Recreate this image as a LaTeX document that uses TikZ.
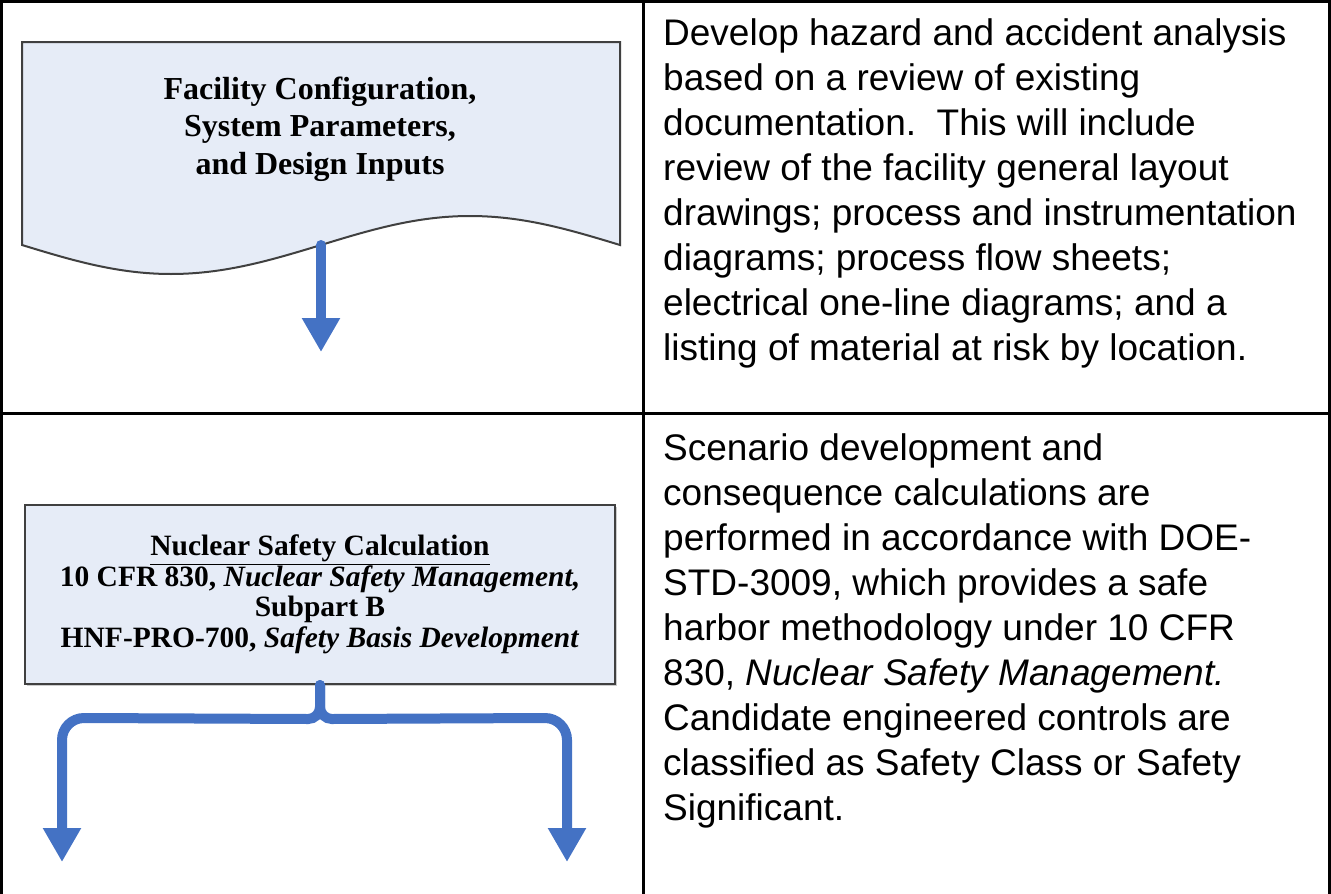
\documentclass[tikz,border=0pt]{standalone}
\usepackage{fontspec}
\setmainfont{Liberation Serif}
\newfontfamily\arialfont{Liberation Sans}
\usetikzlibrary{arrows.meta,shadows}
\definecolor{docfill}{RGB}{230,236,247}
\definecolor{docline}{RGB}{64,64,64}
\definecolor{flowblue}{RGB}{68,114,196}

\begin{document}
\begin{tikzpicture}[x=1pt,y=1pt,
        tableline/.style={line width=3pt},
        docshape/.style={fill=docfill, draw=docline, line width=2pt},
        flow/.style={draw=flowblue, line width=10pt, line cap=round, -{Triangle[width=36pt,length=34pt]}},
        lefttext/.style={align=center, inner sep=0pt},
        righttext/.style={anchor=base west, align=left, inner sep=0pt, font={\arialfont\fontsize{37}{45}\selectfont}}]

        \useasboundingbox (0,0) rectangle (1331,-894);

        % Table rules
        \draw[tableline] (1.5,-894) -- (1.5,-1.5) -- (1329.5,-1.5) -- (1329.5,-894);
        \draw[tableline] (643,-1.5) -- (643,-894);
        \draw[tableline] (1.5,-413) -- (1329.5,-413);

        % Document shape with wavy bottom
        \filldraw[docshape] (22,-42) -- (620,-42) -- (620,-245)
            sin (470,-216) cos (321,-245) sin (171,-274) cos (22,-245) -- cycle;
        % (base of a multi-line node = its last line)
        \node[lefttext, anchor=base, font={\bfseries\fontsize{32}{37.5}\selectfont}] (facility) at (320,-174)
            {Facility Configuration,\\System Parameters,\\and Design Inputs};
        \coordinate (facility-out) at (321,-245);
        \coordinate (facility-tip) at (321,-352);
        \draw[flow] (facility-out) -- (facility-tip);

        % Calculation box
        \node[docshape, drop shadow={shadow xshift=1.5pt, shadow yshift=-1.5pt, fill=black!40, opacity=0.5},
              minimum width=590pt, minimum height=179pt, inner sep=0pt, align=center,
              font={\bfseries\fontsize{29.5}{30.5}\selectfont}] (nscalc) at (320,-594.5)
            {\underline{Nuclear Safety Calculation}\\
             10 CFR 830, \textit{Nuclear Safety Management,}\\
             Subpart B\\
             HNF-PRO-700, \textit{Safety Basis Development}};

        % Split connector
        \coordinate (split-left) at (62,-862);
        \coordinate (split-right) at (567,-862);
        \draw[flow] (nscalc.south) -- ++(0,-22) to[out=-90,in=0] ++(-12,-12) -- (84,-718)
            arc[start angle=90, end angle=180, radius=22] -- (split-left);
        \draw[flow] (nscalc.south) -- ++(0,-22) to[out=-90,in=180] ++(12,-12) -- (545,-718)
            arc[start angle=90, end angle=0, radius=22] -- (split-right);

        % Right column texts
        \node[righttext] (hazard) at (663,-360.5)
            {Develop hazard and accident analysis\\
             based on a review of existing\\
             documentation.~~This will include\\
             review of the facility general layout\\
             drawings; process and instrumentation\\
             diagrams; process flow sheets;\\
             electrical one-line diagrams; and a\\
             listing of material at risk by location.};
        \node[righttext] (scenario) at (663,-820)
            {Scenario development and\\
             consequence calculations are\\
             performed in accordance with DOE-\\
             STD-3009, which provides a safe\\
             harbor methodology under 10 CFR\\
             830, \textit{Nuclear Safety Management.}\\
             Candidate engineered controls are\\
             classified as Safety Class or Safety\\
             Significant.};

\end{tikzpicture}
\end{document}
